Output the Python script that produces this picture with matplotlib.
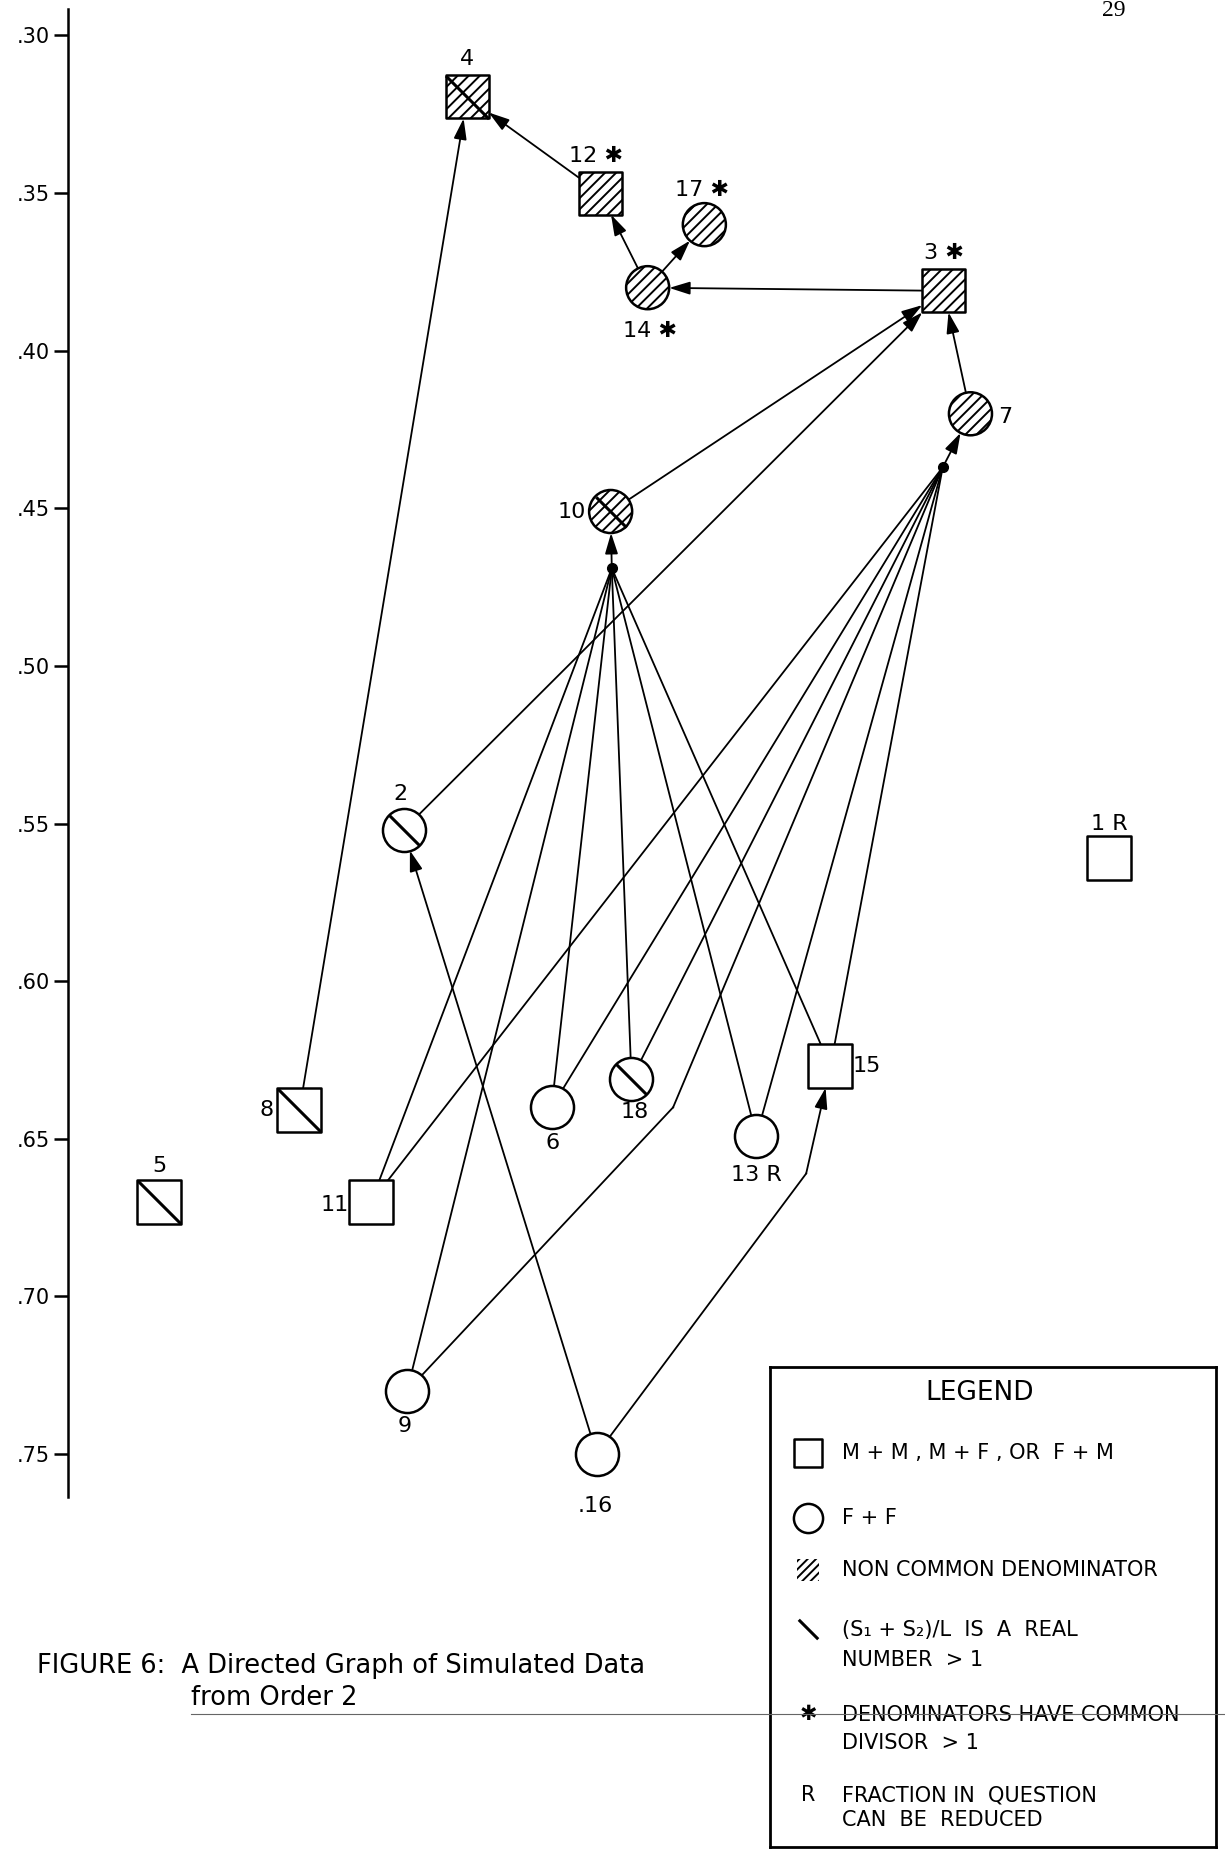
import numpy as np
import matplotlib.pyplot as plt
from matplotlib.path import Path
from matplotlib.lines import Line2D

plt.rcParams['font.family'] = 'DejaVu Sans'
plt.rcParams['hatch.linewidth'] = 1.4

# nodes of the directed graph (x is arbitrary horizontal placement, y is the plotted value)
node_ids = ['1', '2', '3', '4', '5', '6', '7', '8', '9', '10', '11', '12', '13', '14', '15', '16', '17', '18']
node_x = [90.0, 29.0, 75.7, 34.5, 7.9, 41.8, 78.0, 20.0, 29.3, 46.9, 26.2, 46.0, 59.5, 50.1, 65.9, 45.7, 55.0, 48.7]
node_y = [0.561, 0.552, 0.381, 0.3195, 0.670, 0.640, 0.420, 0.641, 0.730, 0.451, 0.670, 0.350, 0.649, 0.380, 0.627, 0.750, 0.360, 0.631]
node_shape = ['s', 'o', 's', 's', 's', 'o', 'o', 's', 'o', 'o', 's', 's', 'o', 'o', 's', 'o', 'o', 'o']
node_label = ['1 R', '2', '3 ✱', '4', '5', '6', '7', '8', '9', '10', '11', '12 ✱', '13 R', '14 ✱', '15', '.16', '17 ✱', '18']
hatched = ['3', '4', '7', '10', '12', '14', '17']
slashed = ['2', '4', '5', '8', '10', '18']

# label offsets in points
label_dx = [0, -2, 0, 0, 0, 1, 25, -24, -2, -28, -26, -3, 0, 2, 26, -1, -2, 2]
label_dy = [25, 26, 27, 27, 26, -26, -2, 0, -25, 0, -2, 27, -28, -31, 0, -37, 25, -24]

# junction / bend points where lines merge
junc_ids = ['J10', 'J7', 'B9', 'B16']
junc_x = [47.0, 75.6, 52.3, 63.8]
junc_y = [0.469, 0.437, 0.640, 0.661]
junc_dot = ['J10', 'J7']

# (from, to, arrow)
edges = [
    ('8', '4', True), ('12', '4', True), ('14', '12', True), ('14', '17', True),
    ('3', '14', True), ('7', '3', True), ('10', '3', True), ('2', '3', True),
    ('J10', '10', True), ('J7', '7', True), ('16', '2', True),
    ('16', 'B16', False), ('B16', '15', True),
    ('9', 'B9', False), ('B9', 'J7', False),
    ('11', 'J10', False), ('9', 'J10', False), ('6', 'J10', False),
    ('18', 'J10', False), ('13', 'J10', False), ('15', 'J10', False),
    ('11', 'J7', False), ('6', 'J7', False), ('18', 'J7', False),
    ('13', 'J7', False), ('15', 'J7', False),
]

yticks = [0.30, 0.35, 0.40, 0.45, 0.50, 0.55, 0.60, 0.65, 0.70, 0.75]

W, H = 1225, 1850
fig = plt.figure(figsize=(W / 100, H / 100), dpi=100)
ax = fig.add_axes([68 / W, 1 - 1497 / H, 1 - 68 / W, (1497 - 9) / H])
ax.set_xlim(0, 100)
ax.set_ylim(0.7636, 0.2916)
for s in ['top', 'right', 'bottom']:
    ax.spines[s].set_visible(False)
ax.spines['left'].set_linewidth(1.8)
ax.set_xticks([])
ax.set_yticks(yticks)
ax.set_yticklabels(['{:.2f}'.format(v)[1:] for v in yticks])
ax.tick_params(axis='y', direction='out', length=10, width=1.8, labelsize=15, pad=3)

ms = 31
half_px = ms * fig.dpi / 72 / 2

pos = {}
shape = {}
for i, n in enumerate(node_ids):
    pos[n] = (node_x[i], node_y[i])
    shape[n] = node_shape[i]
for i, n in enumerate(junc_ids):
    pos[n] = (junc_x[i], junc_y[i])


def endpoint(a, b):
    ca = ax.transData.transform(pos[a])
    cb = ax.transData.transform(pos[b])
    if a not in shape:
        return ax.transData.inverted().transform(ca)
    d = cb - ca
    u = d / np.hypot(*d)
    r = half_px if shape[a] == 'o' else half_px / max(abs(u[0]), abs(u[1]))
    return ax.transData.inverted().transform(ca + u * r)


for a, b, arrow in edges:
    p0 = endpoint(a, b)
    p1 = endpoint(b, a)
    if arrow:
        ax.annotate('', xy=p1, xytext=p0,
                    arrowprops=dict(arrowstyle='-|>,head_length=0.9,head_width=0.28',
                                    lw=1.3, color='black', shrinkA=0, shrinkB=0,
                                    mutation_scale=14))
    else:
        ax.plot([p0[0], p1[0]], [p0[1], p1[1]], color='black', lw=1.3)

for n in junc_dot:
    ax.plot(*pos[n], 'o', ms=7, color='black', zorder=4)

slash = Path([(-1, 1), (1, -1)], [Path.MOVETO, Path.LINETO])
for i, n in enumerate(node_ids):
    ax.scatter([node_x[i]], [node_y[i]], s=ms ** 2, marker=node_shape[i],
               facecolor='white', edgecolor='black', linewidths=1.8,
               hatch='///' if n in hatched else None, zorder=5)
    if n in slashed:
        size = ms if node_shape[i] == 's' else ms / np.sqrt(2)
        ax.plot(node_x[i], node_y[i], marker=slash, ms=size, mew=2.2,
                color='black', ls='none', zorder=6)
    ax.annotate(node_label[i], (node_x[i], node_y[i]), xytext=(label_dx[i], label_dy[i]),
                textcoords='offset points', ha='center', va='center', fontsize=16)

# legend box
lg = fig.add_axes([770 / W, 1 - 1847 / H, 446 / W, 480 / H])
lg.set_xlim(0, 1)
lg.set_ylim(0, 1)
lg.set_xticks([])
lg.set_yticks([])
for s in lg.spines.values():
    s.set_linewidth(2)
lg.text(0.47, 0.946, 'LEGEND', ha='center', va='center', fontsize=19)
sx, tx = 0.085, 0.161
fs = 15
lg.scatter([sx], [0.821], s=20 ** 2, marker='s', facecolor='white', edgecolor='black', linewidths=1.8)
lg.text(tx, 0.821, 'M + M , M + F , OR  F + M', va='center', fontsize=fs)
lg.scatter([sx], [0.685], s=21 ** 2, marker='o', facecolor='white', edgecolor='black', linewidths=1.8)
lg.text(tx, 0.685, 'F + F', va='center', fontsize=fs)
lg.scatter([sx], [0.577], s=16 ** 2, marker='s', facecolor='none', edgecolor='black',
           linewidths=0, hatch='////')
lg.text(tx, 0.577, 'NON COMMON DENOMINATOR', va='center', fontsize=fs)
lg.plot(sx, 0.455, marker=slash, ms=14, mew=2.2, color='black', ls='none')
lg.text(tx, 0.452, '(S₁ + S₂)/L  IS  A  REAL', va='center', fontsize=fs)
lg.text(tx, 0.390, 'NUMBER  > 1', va='center', fontsize=fs)
lg.text(sx, 0.277, '✱', ha='center', va='center', fontsize=15)
lg.text(tx, 0.275, 'DENOMINATORS HAVE COMMON', va='center', fontsize=fs)
lg.text(tx, 0.217, 'DIVISOR  > 1', va='center', fontsize=fs)
lg.text(sx, 0.108, 'R', ha='center', va='center', fontsize=fs)
lg.text(tx, 0.108, 'FRACTION IN  QUESTION', va='center', fontsize=fs)
lg.text(tx, 0.056, 'CAN  BE  REDUCED', va='center', fontsize=fs)

# caption, page number and the faint fold line of the scan
fig.text(37 / W, 1 - 1666 / H, 'FIGURE 6:  A Directed Graph of Simulated Data', va='center', fontsize=18.5)
fig.text(191 / W, 1 - 1698 / H, 'from Order 2', va='center', fontsize=18.5)
fig.text(1114 / W, 1 - 10 / H, '29', ha='center', va='center', fontsize=17, family='Liberation Serif')
fig.add_artist(Line2D([191 / W, 1.0], [1 - 1714 / H, 1 - 1714 / H], color='#666666', lw=0.8))

fig.savefig('out.png', dpi=100)
